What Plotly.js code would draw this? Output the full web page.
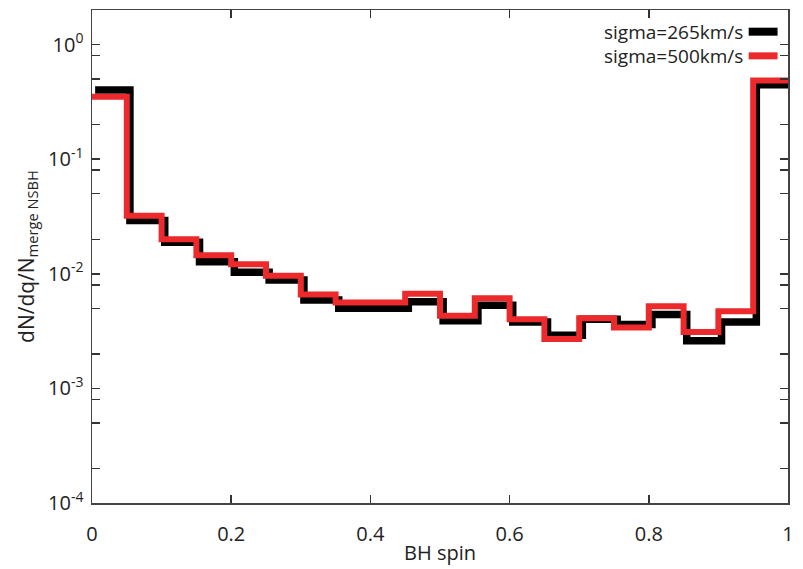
<!DOCTYPE html>
<html>
<head>
<meta charset="utf-8">
<script src="https://cdn.plot.ly/plotly-3.0.1.min.js"></script>
<style>html,body{margin:0;padding:0;background:#fff;}#chart{width:803px;height:569px;}</style>
</head>
<body>
<div id="chart"></div>
<script>
// Bin edges of BH spin (0 to 1, step 0.05)
const binEdges = [0,0.05,0.1,0.15,0.2,0.25,0.3,0.35,0.4,0.45,0.5,0.55,0.6,0.65,0.7,0.75,0.8,0.85,0.9,0.95,1.0];
// dN/dq/N_merge NSBH per bin
const sigma265 = [0.40,0.0292,0.0188,0.0127,0.0103,0.0088,0.0059,0.0050,0.0050,0.0057,0.0039,0.0053,0.0038,0.0029,0.0040,0.0036,0.0044,0.0026,0.0038,0.445];
const sigma500 = [0.35,0.032,0.020,0.0145,0.0121,0.0096,0.0066,0.0056,0.0056,0.0067,0.0043,0.0061,0.0040,0.0027,0.0041,0.0034,0.0052,0.0031,0.0047,0.485];
const seriesNames = ['sigma=265km/s','sigma=500km/s'];
const seriesColors = ['#000000','#ec2a2c'];
const xTickVals = [0,0.2,0.4,0.6,0.8,1];
const xTickText = ['0','0.2','0.4','0.6','0.8','1'];
const yTickVals = [1e-4,1e-3,1e-2,1e-1,1e0];
const yTickText = ['10<sup>-4</sup>','10<sup>-3</sup>','10<sup>-2</sup>','10<sup>-1</sup>','10<sup>0</sup>'];
const yMinorVals = [];
[1e-4,1e-3,1e-2,1e-1,1e0].forEach(d => [2,5,8].forEach(m => yMinorVals.push(m*d)));

function stepY(v){ return v.concat([v[v.length-1]]); }

const traces = [
  {x: binEdges, y: stepY(sigma265), type:'scatter', mode:'lines', line:{shape:'hv', color:seriesColors[0], width:7.5}, name:seriesNames[0], xaxis:'x', showlegend:false},
  {x: binEdges, y: stepY(sigma500), type:'scatter', mode:'lines', line:{shape:'hv', color:seriesColors[1], width:6}, name:seriesNames[1], xaxis:'x2', showlegend:false}
];

const font = {family:'"Open Sans", "DejaVu Sans", sans-serif', size:20, color:'#222'};
const axisCommon = {showline:true, linecolor:'#444', linewidth:1.5, mirror:'allticks', ticks:'inside', tickcolor:'#333', tickwidth:1.5, ticklen:8, showgrid:false, zeroline:false};

const layout = {
  width:803, height:569,
  margin:{l:92, r:15, t:10, b:66},
  paper_bgcolor:'#fff', plot_bgcolor:'#fff',
  font: font,
  showlegend:false,
  xaxis: {range:[-0.0045,0.9955], visible:false, showgrid:false, zeroline:false},
  xaxis2: Object.assign({}, axisCommon, {
    overlaying:'x', side:'bottom', anchor:'y',
    range:[0,1], tickmode:'array', tickvals:xTickVals, ticktext:xTickText,
    tickfont:{size:20}, ticklabelstandoff:12,
    title:{text:'BH spin', font:{size:20}, standoff:0}
  }),
  yaxis: Object.assign({}, axisCommon, {
    type:'log', range:[-4, 0.301], tickmode:'array', tickvals:yTickVals, ticktext:yTickText,
    tickfont:{size:20}, ticklabelstandoff:3,
    minor:{tickmode:'array', tickvals:yMinorVals, ticklen:4, tickwidth:1.5, tickcolor:'#333', ticks:'inside', showgrid:false},
    title:{text:'dN/dq/N<sub>merge NSBH</sub>', font:{size:21}, standoff:8}
  }),
  annotations: seriesNames.map((n,i) => ({
    text:n, xref:'paper', yref:'paper', x:0.938, y:[0.956,0.907][i], xanchor:'right', yanchor:'middle',
    showarrow:false, font:{size:19, color:'#222'}
  })),
  shapes: seriesNames.map((n,i) => ({
    type:'line', xref:'paper', yref:'paper', x0:0.9435, x1:0.985, y0:[0.956,0.907][i], y1:[0.956,0.907][i],
    line:{color:seriesColors[i], width:[8,7][i]}
  }))
};

Plotly.newPlot('chart', traces, layout, {displayModeBar:false, staticPlot:true});
</script>
</body>
</html>
